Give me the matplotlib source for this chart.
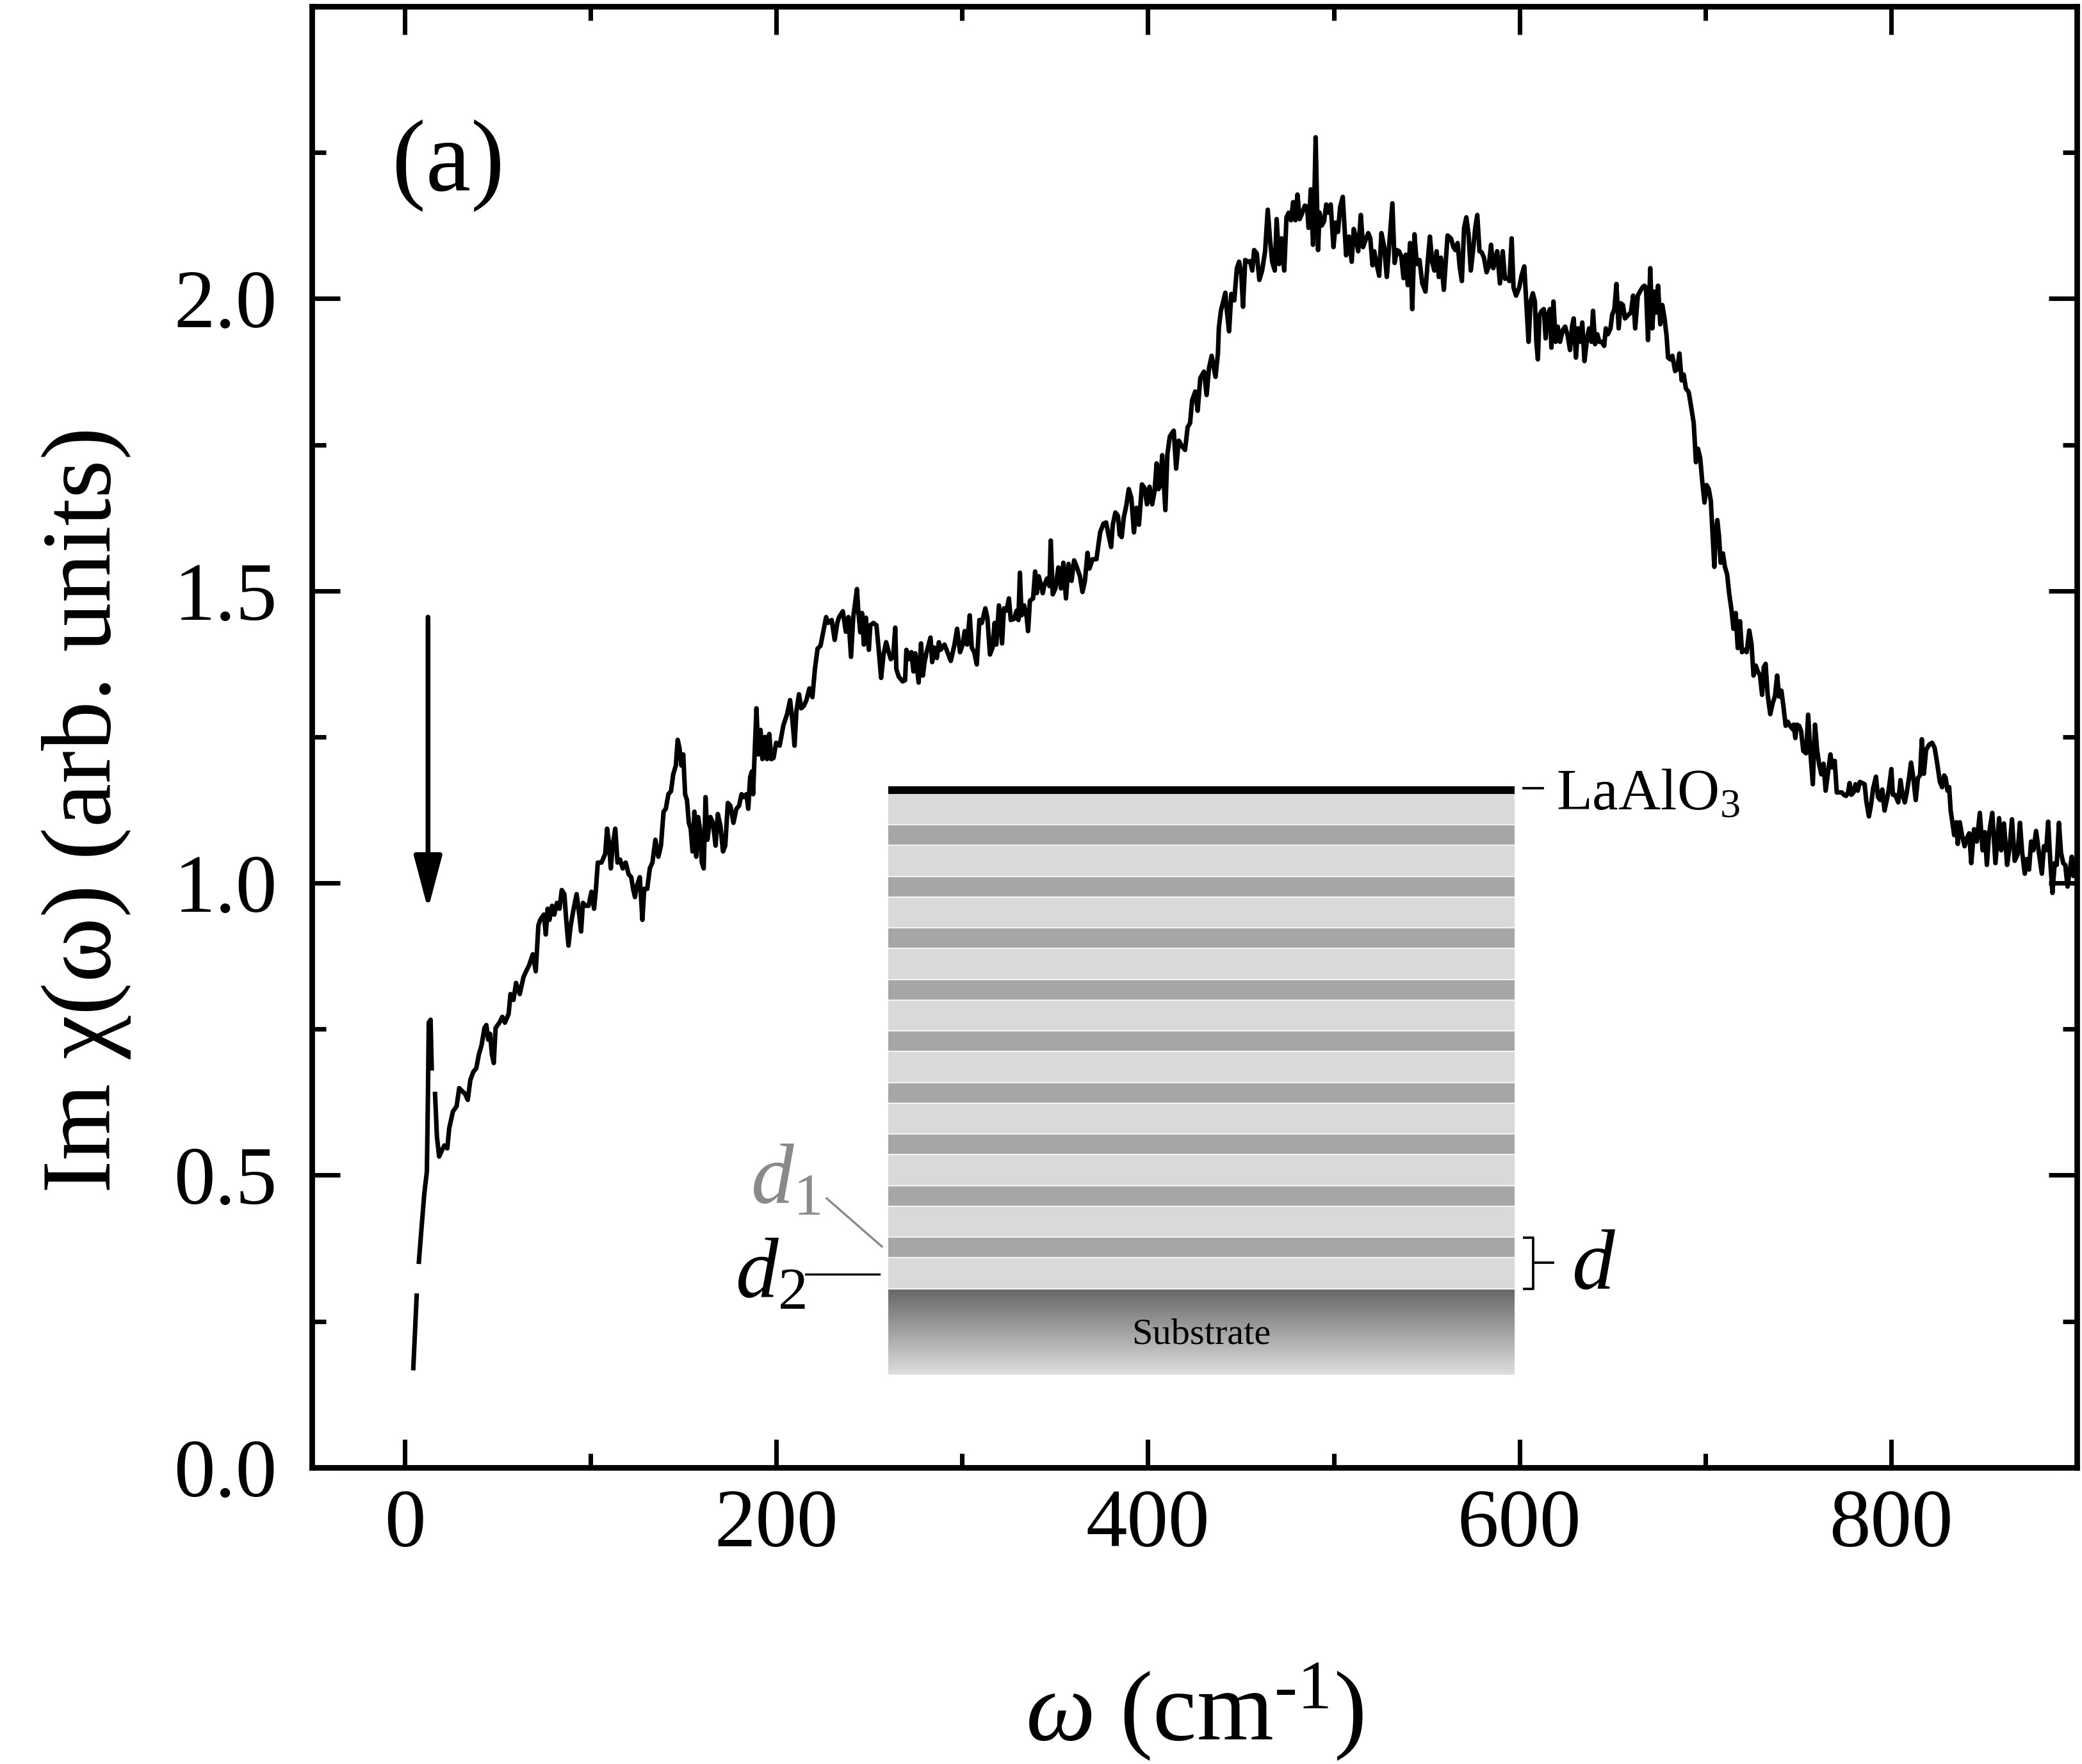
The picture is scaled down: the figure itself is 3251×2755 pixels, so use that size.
"""Im chi(omega) spectrum with superlattice schematic inset, panel (a)."""
import numpy as np
import matplotlib; matplotlib.use("Agg")
import matplotlib.pyplot as plt

plt.rcParams['font.family'] = ['Liberation Serif', 'DejaVu Serif']
plt.rcParams['mathtext.fontset'] = 'custom'
plt.rcParams['mathtext.rm'] = 'Liberation Serif'
plt.rcParams['mathtext.it'] = 'Liberation Serif:italic'
plt.rcParams['mathtext.bf'] = 'Liberation Serif:bold'

nan = np.nan
# spectrum (cm^-1, arb. units); nan marks gaps in the trace
omega = [
    4.6, 6.4, nan, 7.6, 9.0, 10.5, 11.9, 12.5, 12.9, 13.9, 14.5, nan,
    16.3, 17.3, 18.5, 19.9, 21.3, 22.9, 23.9, 25.9, 27.9, 29.3, 30.9, 32.5,
    33.9, 35.3, 36.9, 38.5, 39.9, 41.3, 42.9, 43.9, 44.9, 45.9, 46.9, 47.9,
    48.9, 50.9, 52.5, 53.9, 55.9, 56.9, 58.5, 59.9, 61.9, 63.9, 65.3, 66.9,
    68.9, 70.5, 71.9, 72.9, 74.9, 75.9, 76.9, 77.9, 79.3, 80.5, 81.9, 83.3,
    84.5, 85.9, 86.9, 88.1, 89.3, 90.9, 92.5, 93.9, 94.9, 95.9, 97.3, 98.9,
    100.5, 101.9, 102.9, 103.9, 105.9, 107.9, 108.9, 109.9, 110.9, 111.9, 113.3, 114.5,
    115.9, 117.3, 118.9, 120.5, 121.9, 122.9, 123.9, 124.9, 126.5, 127.9, 128.9, 130.5,
    131.9, 133.3, 134.9, 136.5, 137.9, 139.3, 140.5, 141.9, 143.3, 144.5, 145.9, 146.9,
    147.9, 148.9, 149.9, 150.9, 151.9, 152.9, 153.9, 154.9, 155.9, 156.9, 157.9, 158.9,
    159.9, 160.9, 161.9, 162.9, 164.5, 165.9, 167.3, 168.5, 169.9, 171.3, 172.5, 173.9,
    175.3, 176.9, 178.5, 179.9, 181.3, 182.5, 183.9, 184.9, 185.9, 186.9, 187.5, 188.2,
    189.3, 190.3, 191.5, 192.5, 193.9, 195.0, 196.2, 197.3, 198.5, 199.9, 201.8, 203.8,
    205.8, 207.4, 208.8, 209.8, 210.8, 212.2, 213.4, 214.8, 216.2, 217.8, 219.4, 220.8,
    222.2, 223.8, 226.8, 227.8, 229.8, 231.4, 232.8, 233.8, 235.8, 237.4, 238.8, 240.2,
    241.4, 243.4,
    244.1, 245.2, 246.1, 247.1, 248.2, 249.8, 250.6, 252.3, 253.9, 255.0, 256.4, 257.7,
    259.1, 260.5, 261.6, 262.9, 264.0, 264.6, 265.9, 268.0, 269.3, 270.0, 271.4, 272.7,
    273.8, 274.8, 276.6, 277.9, 278.9, 279.8, 280.9, 283.0, 283.9, 285.0, 286.4, 287.5,
    288.4, 290.5, 292.1, 293.9, 295.9, 297.3, 298.9, 300.3, 301.4, 302.7, 304.1, 305.2,
    306.5, 307.9, 309.3, 310.6, 312.5, 313.6, 315.0, 316.4, 317.5, 318.4, 319.8, 321.5,
    322.5, 323.9, 325.2, 326.2, 328.0, 329.3, 330.3, 331.1, 332.0, 333.4, 334.8, 335.5,
    336.5, 338.2, 339.3, 340.2, 341.2, 342.3, 343.4, 344.3, 345.7, 347.0, 347.7, 348.8,
    350.2, 351.8, 353.2, 354.5, 355.9, 357.3, 358.9, 360.3, 361.6, 363.4, 364.8, 366.1,
    367.5, 368.5, 370.2, 372.3, 374.3, 376.1, 377.5, 378.8, 380.2, 381.1, 382.5, 383.9,
    384.8, 385.9, 387.0, 388.4, 389.7, 391.1, 392.5, 393.8, 395.2, 396.8, 398.2, 399.5,
    400.9, 402.3, 403.6, 404.7, 405.7, 406.6, 407.7, 409.4, 410.5, 411.8, 413.9, 415.2,
    416.6, 418.4, 420.0, 421.4, 422.7, 423.8, 425.5, 426.8, 428.2, 430.2, 431.6, 432.9,
    434.3, 436.4, 437.7,
    438.2, 439.3, 441.7, 442.5, 443.7, 444.9, 446.5, 447.9, 449.1, 450.3, 451.2, 452.4,
    453.8, 455.0, 456.2, 457.2, 458.6, 460.0, 461.5, 463.1, 464.5, 465.7, 466.9, 468.3,
    469.3, 470.7, 471.9, 473.4, 474.6, 475.8, 477.0, 478.2, 479.4, 480.5, 481.7, 482.9,
    484.5, 485.7, 486.5, 487.7, 488.9, 489.7, 490.3, 490.9, 491.6, 492.4, 493.6, 494.8,
    496.0, 497.2, 498.4, 499.9, 501.1, 502.3, 503.5, 504.9, 506.7, 508.2, 509.7, 510.8,
    512.0, 513.2, 514.6, 515.8, 517.0, 518.6, 519.7, 520.9, 521.8, 523.0, 524.5, 525.7,
    527.2, 528.6, 529.8, 531.6, 532.8, 534.0, 535.2, 536.4, 537.6, 538.8, 539.9, 541.1,
    542.3, 543.5, 544.7, 546.2, 547.7, 549.4, 550.6, 551.8, 553.0, 554.2, 555.4, 556.6,
    557.7, 559.3, 560.1, 561.3, 563.1, 564.5, 565.5, 566.7, 567.8, 569.0, 570.2, 571.4,
    572.6, 573.8, 575.2, 576.2, 577.3, 578.5, 579.7, 580.9, 582.3, 583.5, 584.7, 585.9,
    586.8, 588.0, 589.5, 591.0, 592.2, 593.7, 594.6, 595.8,
    596.8, 598.2, 599.9, 601.1, 602.6, 603.7, 604.9, 606.0, 607.2, 608.3, 609.1, 609.9,
    610.8, 612.0, 613.1, 614.1, 615.2, 616.4, 617.2, 618.3, 619.5, 620.6, 621.8, 623.3,
    624.6, 626.0, 627.2, 628.3, 629.2, 630.4, 631.5, 632.7, 633.8, 635.0, 636.4, 637.5,
    638.7, 639.6, 640.7, 641.9, 643.0, 644.4, 645.6, 646.5, 647.6, 649.0, 649.9, 651.1,
    652.2, 653.4, 654.5, 655.7, 656.8, 658.5, 660.0, 661.2, 662.3, 663.7, 664.9, 666.2,
    667.2, 668.1, 669.2, 670.4, 671.5, 672.7, 673.8, 674.6, 675.8, 676.9, 678.1, 679.2,
    680.0, 681.2, 682.3, 683.8, 684.9, 686.1, 687.3, 688.4, 689.6, 691.1, 692.5, 693.8,
    695.0, 696.1, 697.3, 698.4, 699.6, 700.7, 701.9, 703.0, 703.9, 704.9, 705.7, 706.5,
    707.4, 708.3, 709.5, 710.6, 711.8, 712.9, 714.1, 715.2, 716.4, 717.5, 718.7, 719.8,
    721.2, 722.3, 723.7, 724.9, 726.0, 727.2, 728.3, 729.5, 730.6, 731.5, 732.5, 733.6,
    735.0, 736.4, 737.5, 738.7, 739.8, 741.0, 742.1, 743.3, 744.4, 745.6, 747.1,
    747.6, 748.5, 749.3, 750.5, 751.6, 752.8, 754.3, 755.4, 756.6, 757.9, 759.1, 760.2,
    761.4, 762.5, 763.7, 764.8, 766.0, 767.4, 768.3, 769.7, 770.8, 772.0, 773.5, 774.6,
    775.8, 776.9, 777.7, 778.6, 779.8, 780.9, 782.1, 783.2, 784.6, 785.8, 786.7, 788.1,
    789.2, 790.4, 791.9, 793.0, 794.2, 795.3, 796.5, 797.6, 798.8, 800.2, 801.0, 802.2,
    803.9, 805.1, 806.2, 807.4, 808.5, 809.7, 810.8, 812.0, 813.3, 814.5, 815.6, 816.6,
    817.7, 818.9, 820.6, 822.1, 823.5, 824.8, 826.3, 827.5, 828.6, 829.4, 830.4, 831.3,
    832.1, 832.9, 834.0, 835.2, 835.9, 837.0, 838.2, 839.6, 841.0, 842.1, 843.2, 844.7,
    846.2, 847.8, 849.3, 850.5, 851.6, 852.8, 854.5, 856.2, 858.2, 859.3, 860.8, 862.5,
    863.9, 865.1, 866.6, 868.1, 869.4, 870.6, 872.0, 873.1, 874.3, 875.4, 876.6, 878.1,
    879.6, 881.2, 882.3, 883.5, 884.6, 885.8, 886.9, 888.1, 889.2, 890.4, 891.5, 892.7,
    893.8, 895.0, 896.1, 897.3, 898.2, 899.3,
]
im_chi = [
    0.170, 0.294, nan, 0.352, 0.409, 0.468, 0.507, 0.644, 0.761, 0.766, 0.683, nan,
    0.639, 0.566, 0.532, 0.542, 0.551, 0.546, 0.580, 0.609, 0.618, 0.649, 0.644, 0.639,
    0.629, 0.663, 0.677, 0.683, 0.707, 0.722, 0.752, 0.757, 0.732, 0.742, 0.707, 0.692,
    0.752, 0.761, 0.771, 0.761, 0.776, 0.810, 0.800, 0.829, 0.810, 0.839, 0.849, 0.859,
    0.878, 0.849, 0.927, 0.937, 0.946, 0.912, 0.956, 0.937, 0.961, 0.946, 0.966, 0.956,
    0.988, 0.981, 0.937, 0.893, 0.927, 0.956, 0.981, 0.946, 0.917, 0.966, 0.961, 0.961,
    0.985, 0.956, 0.990, 1.035, 1.035, 1.050, 1.093, 1.069, 1.025, 1.064, 1.093, 1.035,
    1.040, 1.025, 1.035, 1.015, 1.010, 0.990, 0.976, 0.995, 1.010, 0.937, 0.990, 0.990,
    1.025, 1.035, 1.074, 1.045, 1.064, 1.122, 1.127, 1.152, 1.157, 1.186, 1.201, 1.245,
    1.230, 1.201, 1.220, 1.152, 1.142, 1.103, 1.093, 1.054, 1.122, 1.045, 1.113, 1.093,
    1.035, 1.025, 1.147, 1.074, 1.113, 1.103, 1.064, 1.118, 1.098, 1.054, 1.064, 1.137,
    1.132, 1.103, 1.127, 1.132, 1.152, 1.147, 1.152, 1.127, 1.181, 1.191, 1.152, 1.212,
    1.299, 1.220, 1.262, 1.212, 1.250, 1.212, 1.255, 1.212, 1.214, 1.240, 1.235, 1.270,
    1.289, 1.313, 1.274, 1.235, 1.294, 1.323, 1.299, 1.303, 1.313, 1.333, 1.318, 1.367,
    1.401, 1.406, 1.455, 1.445, 1.450, 1.416, 1.445, 1.455, 1.465, 1.430, 1.455, 1.387,
    1.455, 1.503,
    1.466, 1.429, 1.462, 1.408, 1.454, 1.399, 1.441, 1.445, 1.441, 1.403, 1.351, 1.391,
    1.412, 1.395, 1.383, 1.387, 1.437, 1.366, 1.353, 1.345, 1.347, 1.399, 1.383, 1.395,
    1.362, 1.393, 1.343, 1.410, 1.355, 1.378, 1.395, 1.420, 1.378, 1.403, 1.385, 1.412,
    1.399, 1.408, 1.395, 1.380, 1.408, 1.435, 1.395, 1.408, 1.431, 1.408, 1.458, 1.403,
    1.395, 1.374, 1.450, 1.445, 1.470, 1.454, 1.391, 1.403, 1.445, 1.408, 1.475, 1.410,
    1.470, 1.466, 1.487, 1.450, 1.452, 1.466, 1.450, 1.531, 1.458, 1.475, 1.454, 1.431,
    1.483, 1.487, 1.533, 1.496, 1.525, 1.512, 1.496, 1.510, 1.521, 1.508, 1.586, 1.494,
    1.504, 1.540, 1.504, 1.548, 1.487, 1.546, 1.517, 1.552, 1.542, 1.525, 1.498, 1.517,
    1.565, 1.538, 1.554, 1.554, 1.600, 1.615, 1.617, 1.596, 1.575, 1.613, 1.634, 1.628,
    1.596, 1.592, 1.625, 1.646, 1.674, 1.659, 1.600, 1.642, 1.613, 1.682, 1.676, 1.648,
    1.678, 1.648, 1.671, 1.718, 1.674, 1.680, 1.732, 1.638, 1.734, 1.764, 1.774, 1.709,
    1.757, 1.747, 1.741, 1.780, 1.787, 1.826, 1.841, 1.808, 1.864, 1.875, 1.835, 1.881,
    1.902, 1.866, 1.906,
    1.950, 1.979, 2.010, 1.979, 1.944, 2.008, 1.997, 2.052, 2.063, 2.041, 1.986, 2.066,
    2.063, 2.064, 2.048, 2.083, 2.077, 2.032, 2.048, 2.081, 2.152, 2.103, 2.063, 2.048,
    2.136, 2.059, 2.103, 2.048, 2.139, 2.147, 2.134, 2.165, 2.134, 2.178, 2.136, 2.145,
    2.159, 2.157, 2.121, 2.187, 2.092, 2.187, 2.276, 2.183, 2.083, 2.147, 2.125, 2.132,
    2.161, 2.147, 2.161, 2.088, 2.130, 2.114, 2.157, 2.174, 2.074, 2.106, 2.063, 2.119,
    2.103, 2.081, 2.143, 2.088, 2.099, 2.112, 2.103, 2.057, 2.081, 2.061, 2.039, 2.112,
    2.088, 2.037, 2.088, 2.163, 2.061, 2.083, 2.081, 2.072, 2.035, 2.075, 2.023, 2.095,
    1.982, 2.110, 2.059, 2.066, 2.026, 2.012, 2.063, 2.106, 2.063, 2.048, 2.081, 2.037,
    2.070, 2.015, 2.052, 2.108, 2.103, 2.088, 2.083, 2.095, 2.055, 2.030, 2.121, 2.139,
    2.110, 2.048, 2.088, 2.121, 2.143, 2.081, 2.079, 2.070, 2.045, 2.055, 2.092, 2.052,
    2.064, 2.081, 2.026, 2.081, 2.034, 2.035, 2.030, 2.103,
    2.019, 2.005, 2.019, 2.039, 2.055, 1.992, 1.926, 1.995, 2.009, 1.995, 1.926, 1.896,
    1.972, 1.979, 1.982, 1.932, 1.972, 1.982, 1.916, 1.995, 1.926, 1.952, 1.926, 1.946,
    1.952, 1.936, 1.912, 1.952, 1.966, 1.899, 1.949, 1.926, 1.959, 1.893, 1.932, 1.949,
    1.926, 1.979, 1.922, 1.939, 1.926, 1.926, 1.919, 1.949, 1.939, 1.949, 1.972, 1.982,
    2.025, 1.949, 1.992, 1.989, 1.966, 1.972, 1.976, 2.005, 1.949, 2.005, 2.012, 2.019,
    2.022, 2.019, 1.929, 2.052, 1.949, 2.012, 1.976, 2.022, 1.956, 1.989, 1.966, 1.936,
    1.899, 1.896, 1.902, 1.876, 1.879, 1.906, 1.860, 1.870, 1.846, 1.840, 1.813, 1.787,
    1.720, 1.743, 1.727, 1.687, 1.651, 1.681, 1.674, 1.654, 1.601, 1.541, 1.601, 1.621,
    1.594, 1.548, 1.564, 1.541, 1.528, 1.495, 1.468, 1.435, 1.462, 1.402, 1.448, 1.395,
    1.399, 1.395, 1.432, 1.409, 1.355, 1.372, 1.362, 1.355, 1.322, 1.369, 1.375, 1.322,
    1.289, 1.309, 1.319, 1.355, 1.319, 1.329, 1.302, 1.269, 1.276, 1.269, 1.263,
    1.271, 1.248, 1.271, 1.269, 1.260, 1.226, 1.222, 1.288, 1.224, 1.169, 1.271, 1.228,
    1.202, 1.186, 1.204, 1.158, 1.187, 1.220, 1.198, 1.209, 1.155, 1.155, 1.155, 1.151,
    1.149, 1.155, 1.171, 1.151, 1.155, 1.169, 1.158, 1.173, 1.171, 1.169, 1.140, 1.114,
    1.133, 1.162, 1.182, 1.147, 1.142, 1.160, 1.124, 1.140, 1.160, 1.195, 1.151, 1.151,
    1.138, 1.176, 1.151, 1.138, 1.155, 1.180, 1.206, 1.180, 1.142, 1.180, 1.184, 1.246,
    1.187, 1.228, 1.237, 1.240, 1.231, 1.206, 1.173, 1.164, 1.184, 1.180, 1.158, 1.164,
    1.124, 1.107, 1.082, 1.104, 1.067, 1.104, 1.082, 1.063, 1.078, 1.085, 1.034, 1.092,
    1.071, 1.120, 1.056, 1.087, 1.031, 1.085, 1.120, 1.034, 1.111, 1.056, 1.102, 1.031,
    1.063, 1.109, 1.038, 1.049, 1.103, 1.052, 1.016, 1.041, 1.023, 1.071, 1.056, 1.089,
    1.052, 1.016, 1.063, 1.056, 1.105, 1.034, 0.983, 1.034, 1.031, 1.103, 1.052, 1.034,
    1.031, 0.994, 1.020, 1.045, 1.012, 1.034,
]

x_major = [0, 200, 400, 600, 800]
x_minor = [100, 300, 500, 700]
y_major = [0.0, 0.5, 1.0, 1.5, 2.0]
y_minor = [0.25, 0.75, 1.25, 1.75, 2.25]

# schematic stack, bottom to top (thickness in inset units)
layer_names = ["substrate"] + ["d2", "d1"] * 9 + ["d2", "LaAlO3"]
layer_thick = [134] + [48.4, 32.0] * 9 + [48.4, 12]
layer_color = {"d2": "#d9d9d9", "d1": "#a6a6a6", "LaAlO3": "black"}

fig = plt.figure(figsize=(3251 / 300, 2755 / 300), dpi=300)
ax = fig.add_axes([0.1498, 0.1681, 0.8477, 0.8283])
ax.plot(omega, im_chi, color="black", lw=1.7)
ax.set_xlim(-50, 900); ax.set_ylim(0, 2.5)
ax.set_xticks(x_major); ax.set_xticks(x_minor, minor=True)
ax.set_yticks(y_major); ax.set_yticks(y_minor, minor=True)
ax.set_yticklabels([f"{v:.1f}" for v in y_major])
ax.tick_params(which="both", direction="in", top=True, right=True, width=1.7,
               labelsize=31)
ax.tick_params(which="major", length=10.5)
ax.tick_params(which="minor", length=5.3)
ax.tick_params(axis="x", pad=8); ax.tick_params(axis="y", pad=13)
for s in ax.spines.values():
    s.set_linewidth(2.1)

ax.set_ylabel("Im χ(ω) (arb. units)", fontsize=37)
ax.yaxis.set_label_coords(-0.1277, 0.450)
ax.yaxis.label.set_va("center")
ax.set_xlabel(r"$\omega$ (cm$^{\text{-1}}$)", fontsize=37)
ax.xaxis.label.set_va("center")
ax.xaxis.set_label_coords(0.5, -0.1674)
ax.text(0.0773, 0.891, "(a)", transform=ax.transAxes, fontsize=38,
        ha="center", va="center")
ax.annotate("", xy=(12.5, 0.955), xytext=(12.5, 1.455),
            arrowprops=dict(arrowstyle="-|>,head_length=1.7,head_width=0.45",
                            mutation_scale=10, lw=1.8, color="black",
                            shrinkA=0, shrinkB=0))

# inset: superlattice schematic
ins = fig.add_axes([0.4266, 0.2207, 0.3008, 0.3336])
ins.set_axis_off()
W = 978
bottoms = np.concatenate([[0], np.cumsum(layer_thick)[:-1]])
for name, b, h in zip(layer_names, bottoms, layer_thick):
    if name == "substrate":
        grad = np.linspace(0.40, 0.87, 256).reshape(-1, 1)
        ins.imshow(grad, cmap="gray", vmin=0, vmax=1, aspect="auto",
                   extent=(0, W, b, b + h), origin="upper")
    else:
        ins.bar(0, h, width=W, bottom=b, align="edge", color=layer_color[name],
                linewidth=0)
for b in bottoms[1:-1]:
    ins.plot([0, W], [b, b], color="white", lw=0.5, alpha=0.8)
ins.set_xlim(0, W); ins.set_ylim(0, sum(layer_thick))

ins.text(W / 2, 62, "Substrate", fontsize=14, ha="center", va="center")
ins.plot([992, 1022], [915, 915], color="black", lw=0.9, clip_on=False)
ins.text(1043, 882, "LaAlO$_3$", fontsize=22, ha="left", va="baseline")
# period bracket
ins.plot([993, 1007, 1007, 993], [214, 214, 134, 134], color="black", lw=0.9,
         clip_on=False)
ins.plot([1007, 1038], [175, 175], color="black", lw=0.9, clip_on=False)
ins.text(1067, 134, "$d$", fontsize=32, ha="left", va="baseline")
# d1 / d2 leaders
ins.text(-215, 267, "$d_1$", fontsize=32, ha="left", va="baseline", color="#8a8a8a")
ins.plot([-96, -10], [275, 200], color="#8a8a8a", lw=0.8, clip_on=False)
ins.text(-239, 120, "$d_2$", fontsize=32, ha="left", va="baseline", color="black")
ins.plot([-129, -14], [157, 157], color="black", lw=0.8, clip_on=False)

fig.savefig("out.png", dpi=300)
